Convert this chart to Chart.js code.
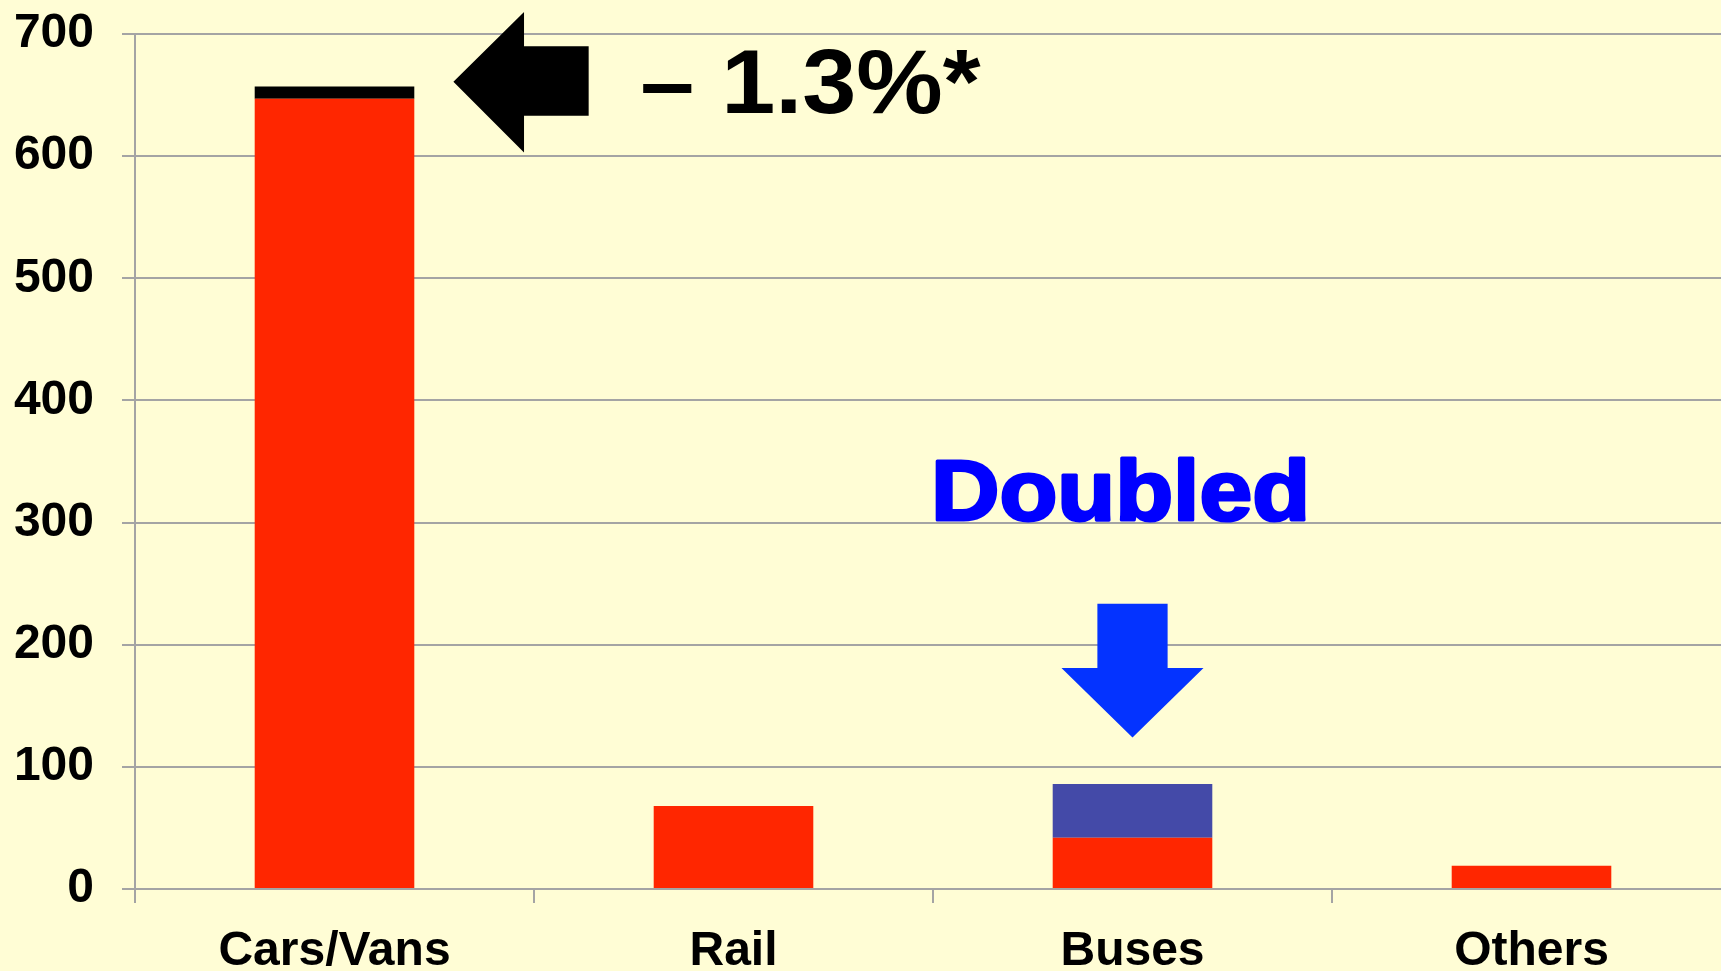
<!DOCTYPE html>
<html>
<head>
<meta charset="utf-8">
<script src="https://cdn.jsdelivr.net/npm/chart.js@4"></script>
<style>
  html, body { margin: 0; padding: 0; background: #FFFDD5; overflow: hidden; }
  #modeChart { display: block; }
</style>
</head>
<body>
<!-- a little wider than the window: the last category runs past the right edge -->
<canvas id="modeChart" width="1731" height="971"></canvas>
<script>
// chart values
const categories = ['Cars/Vans', 'Rail', 'Buses', 'Others'];
const baseValues = [647, 68, 42, 19];
const carsDrop = [10, 0, 0, 0];
const busGrowth = [0, 0, 44, 0];
const yMin = 0;
const yMax = 700;
const yStep = 100;

const FONT = '"Liberation Sans", Arial, Helvetica, sans-serif';
const GRID = '#A4A4A4';

// paint the pale yellow background
const background = {
  id: 'background',
  beforeDraw(chart) {
    const c = chart.ctx;
    c.save();
    c.fillStyle = '#FFFDD5';
    c.fillRect(0, 0, chart.width, chart.height);
    c.restore();
  }
};

// arrows and call-out text, placed from the scales
const notes = {
  id: 'notes',
  afterDatasetsDraw(chart) {
    const c = chart.ctx;
    const x = chart.scales.x, y = chart.scales.y;
    const cw = x.getPixelForValue(1) - x.getPixelForValue(0);
    const c0 = x.getPixelForValue(0);
    const c2 = x.getPixelForValue(2);
    const py = v => y.getPixelForValue(v);
    c.save();

    // black arrow pointing at the cars bar
    c.fillStyle = '#000000';
    c.beginPath();
    c.moveTo(c0 + 0.298 * cw, py(661));
    c.lineTo(c0 + 0.475 * cw, py(718));
    c.lineTo(c0 + 0.475 * cw, py(690));
    c.lineTo(c0 + 0.637 * cw, py(690));
    c.lineTo(c0 + 0.637 * cw, py(633));
    c.lineTo(c0 + 0.475 * cw, py(633));
    c.lineTo(c0 + 0.475 * cw, py(603));
    c.closePath();
    c.fill();

    c.save();
    c.font = 'bold 90px ' + FONT;
    c.textAlign = 'left';
    c.textBaseline = 'alphabetic';
    c.translate(c0 + 0.766 * cw, py(635));
    c.scale(1.08, 1);
    c.fillText('\u2013 1.3%*', 0, 0);
    c.restore();

    // blue arrow above the buses bar
    c.fillStyle = '#0433FF';
    c.beginPath();
    c.moveTo(c2 - 0.088 * cw, py(233.5));
    c.lineTo(c2 + 0.088 * cw, py(233.5));
    c.lineTo(c2 + 0.088 * cw, py(181));
    c.lineTo(c2 + 0.178 * cw, py(181));
    c.lineTo(c2, py(124));
    c.lineTo(c2 - 0.178 * cw, py(181));
    c.lineTo(c2 - 0.088 * cw, py(181));
    c.closePath();
    c.fill();

    // "Doubled" label
    c.fillStyle = '#0000FF';
    c.strokeStyle = '#0000FF';
    c.lineWidth = 3;
    c.lineJoin = 'round';
    c.font = 'bold 85px ' + FONT;
    c.textAlign = 'center';
    c.translate(c2 - 0.03 * cw, py(302));
    c.scale(1.115, 1);
    c.fillText('Doubled', 0, 0);
    c.strokeText('Doubled', 0, 0);
    c.restore();
  }
};

const ctx = document.getElementById('modeChart').getContext('2d');
const modeChart = new Chart(ctx, {
  type: 'bar',
  data: {
    labels: categories,
    datasets: [
      { label: 'Base', data: baseValues, backgroundColor: '#FF2600' },
      { label: 'Cars change', data: carsDrop, backgroundColor: '#000000' },
      { label: 'Bus growth', data: busGrowth, backgroundColor: '#444AA8' }
    ]
  },
  options: {
    responsive: false,
    animation: false,
    barPercentage: 0.4,
    categoryPercentage: 1.0,
    layout: { padding: { top: 34, right: 0, left: 0, bottom: 0 } },
    plugins: {
      legend: { display: false },
      tooltip: { enabled: false }
    },
    scales: {
      x: {
        stacked: true,
        offset: true,
        grid: {
          offset: true,
          drawOnChartArea: false,
          drawTicks: true,
          tickLength: 14,
          color: GRID,
          lineWidth: 2
        },
        border: { color: GRID, width: 2 },
        ticks: {
          color: '#000000',
          padding: 20,
          maxRotation: 0,
          font: { family: FONT, size: 48, weight: 'bold' }
        },
        afterFit(axis) { axis.height = 82; }
      },
      y: {
        stacked: true,
        min: yMin,
        max: yMax,
        ticks: {
          stepSize: yStep,
          color: '#000000',
          padding: 28,
          font: { family: FONT, size: 48, weight: 'bold' }
        },
        grid: { color: GRID, lineWidth: 2, tickLength: 13 },
        border: { color: GRID, width: 2 },
        afterFit(axis) {
          axis.width = 135;
          axis.paddingTop = 0;
          axis.paddingBottom = 0;
        }
      }
    }
  },
  plugins: [background, notes]
});
</script>
</body>
</html>
